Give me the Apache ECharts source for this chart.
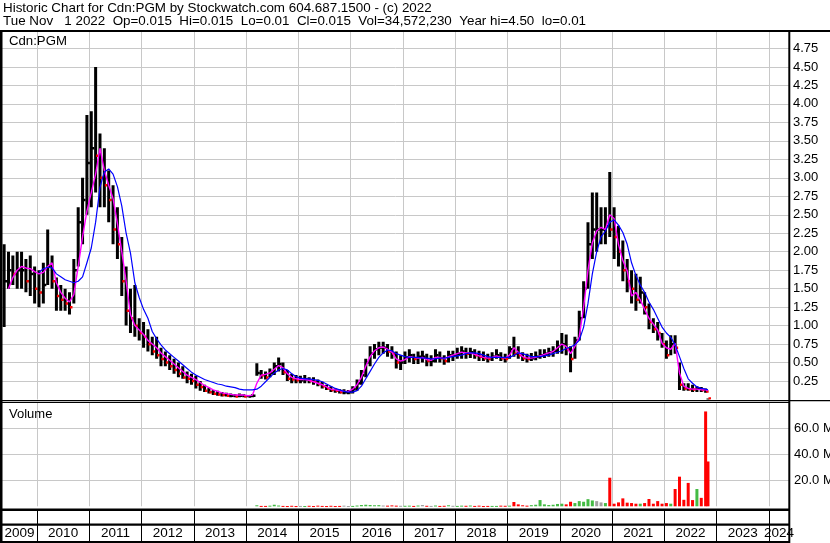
<!DOCTYPE html>
<html><head><meta charset="utf-8">
<script src="https://cdn.jsdelivr.net/npm/echarts@6/dist/echarts.min.js"></script>
<style>html,body{margin:0;padding:0;background:#fff}#c{width:830px;height:543px}</style>
</head><body><div id="c"></div><script>
// ---- data (monthly samples) ----
const firstMonth = [2009, 5];
const lastDate = '2022-11-01';
const lowP = [
 0.98,1.5,1.55,1.5,1.5,1.45,1.4,1.3,
 1.25,1.3,1.55,1.5,1.2,1.2,1.2,1.15,1.3,1.8,2.1,2.5,
 2.6,2.8,2.6,2.6,2.4,2.1,1.9,1.4,1.0,0.9,0.85,0.8,
 0.7,0.65,0.6,0.55,0.45,0.45,0.4,0.35,0.3,0.28,0.22,0.2,
 0.15,0.12,0.1,0.08,0.06,0.05,0.04,0.04,0.03,0.03,0.03,0.03,
 0.03,0.03,0.32,0.28,0.27,0.3,0.33,0.38,0.33,0.25,0.22,0.22,
 0.22,0.22,0.22,0.2,0.18,0.15,0.13,0.1,0.09,0.08,0.07,0.07,
 0.08,0.12,0.2,0.3,0.45,0.55,0.6,0.62,0.58,0.55,0.42,0.4,
 0.48,0.5,0.48,0.48,0.5,0.45,0.45,0.5,0.5,0.47,0.5,0.52,
 0.55,0.55,0.55,0.56,0.55,0.52,0.52,0.5,0.52,0.55,0.52,0.5,
 0.55,0.58,0.55,0.52,0.5,0.52,0.53,0.55,0.56,0.58,0.58,0.62,
 0.62,0.6,0.37,0.55,0.8,1.1,1.5,1.9,2.0,2.1,2.1,2.2,
 1.9,1.8,1.6,1.45,1.3,1.2,1.3,1.15,0.95,0.9,0.8,0.7,
 0.55,0.6,0.62,0.13,0.12,0.12,0.1,0.1,0.1,0.09,0.01
];
const highP = [
 2.1,2.0,1.95,2.0,2.0,1.9,1.95,1.8,
 1.75,1.85,2.3,1.95,1.65,1.55,1.5,1.45,1.9,2.6,3.0,3.85,
 3.9,4.5,3.6,3.4,3.1,2.9,2.6,2.2,1.8,1.5,1.55,1.1,
 1.05,0.95,0.85,0.85,0.7,0.65,0.6,0.55,0.5,0.45,0.38,0.35,
 0.32,0.25,0.2,0.16,0.13,0.12,0.1,0.09,0.08,0.07,0.08,0.07,
 0.06,0.07,0.49,0.4,0.38,0.42,0.5,0.57,0.5,0.4,0.35,0.33,
 0.32,0.33,0.3,0.3,0.27,0.24,0.2,0.18,0.15,0.14,0.14,0.13,
 0.18,0.27,0.4,0.55,0.72,0.75,0.78,0.78,0.75,0.72,0.65,0.6,
 0.65,0.68,0.62,0.65,0.66,0.62,0.6,0.68,0.65,0.6,0.66,0.66,
 0.7,0.72,0.7,0.7,0.68,0.66,0.65,0.62,0.64,0.68,0.64,0.62,
 0.72,0.85,0.72,0.64,0.62,0.63,0.65,0.68,0.68,0.7,0.72,0.8,
 0.9,0.88,0.72,0.85,1.2,1.6,2.4,2.8,2.8,2.6,2.6,3.08,
 2.6,2.35,2.15,1.9,1.75,1.7,1.66,1.45,1.3,1.1,1.05,0.9,
 0.8,0.87,0.87,0.5,0.22,0.22,0.2,0.18,0.17,0.15,0.015
];
const closeP = [
 1.6,1.75,1.7,1.75,1.75,1.6,1.7,1.5,
 1.45,1.55,1.8,1.6,1.4,1.35,1.3,1.25,1.75,2.4,2.7,3.2,
 3.4,3.3,3.0,2.9,2.7,2.3,2.1,1.6,1.2,1.1,1.0,0.9,
 0.85,0.75,0.65,0.6,0.55,0.5,0.45,0.4,0.35,0.3,0.28,0.25,
 0.2,0.17,0.12,0.1,0.08,0.07,0.06,0.05,0.05,0.04,0.05,0.04,
 0.04,0.05,0.36,0.33,0.3,0.36,0.45,0.48,0.37,0.28,0.27,0.26,
 0.26,0.27,0.25,0.24,0.21,0.18,0.15,0.13,0.12,0.1,0.1,0.1,
 0.14,0.22,0.33,0.5,0.62,0.68,0.7,0.7,0.65,0.62,0.5,0.5,
 0.57,0.6,0.55,0.58,0.58,0.52,0.52,0.6,0.56,0.52,0.6,0.6,
 0.62,0.65,0.62,0.64,0.6,0.58,0.56,0.55,0.58,0.6,0.56,0.55,
 0.68,0.62,0.6,0.56,0.55,0.56,0.58,0.6,0.62,0.64,0.66,0.72,
 0.75,0.68,0.55,0.8,1.1,1.5,2.1,2.3,2.3,2.3,2.35,2.3,
 2.2,2.0,1.75,1.6,1.5,1.35,1.45,1.25,1.05,0.95,0.9,0.75,
 0.6,0.75,0.7,0.2,0.15,0.14,0.135,0.145,0.13,0.11,0.015
];
const maFast = [
 null,1.5,1.65,1.75,1.8,1.78,1.77,1.73,
 1.7,1.72,1.8,1.85,1.58,1.45,1.37,1.32,1.42,1.8,2.2,2.55,
 2.8,3.05,3.4,3.1,2.9,2.72,2.38,2.0,1.6,1.15,1.0,0.94,
 0.88,0.8,0.75,0.7,0.63,0.58,0.53,0.48,0.43,0.38,0.33,0.3,
 0.27,0.23,0.19,0.16,0.13,0.11,0.09,0.08,0.07,0.06,0.06,0.06,
 0.05,0.06,0.22,0.33,0.34,0.36,0.41,0.46,0.43,0.35,0.3,0.28,
 0.27,0.27,0.26,0.24,0.22,0.2,0.17,0.14,0.13,0.12,0.11,0.11,
 0.14,0.2,0.3,0.45,0.58,0.66,0.7,0.71,0.68,0.64,0.55,0.52,
 0.54,0.58,0.57,0.56,0.57,0.54,0.53,0.57,0.57,0.55,0.58,0.6,
 0.62,0.64,0.63,0.63,0.61,0.59,0.57,0.56,0.57,0.59,0.57,0.56,
 0.6,0.7,0.64,0.58,0.56,0.56,0.57,0.59,0.61,0.63,0.65,0.7,
 0.75,0.72,0.62,0.72,0.85,1.25,1.75,2.12,2.28,2.33,2.3,2.5,
 2.45,2.1,1.88,1.74,1.4,1.45,1.35,1.22,1.1,1.02,0.94,0.76,
 0.7,0.68,0.76,0.36,0.18,0.15,0.14,0.14,0.13,0.13,0.12
];
const maSlow = [
 null,null,null,null,null,null,null,null,
 1.72,1.77,1.79,1.78,1.7,1.66,1.62,1.6,1.58,1.6,1.66,1.85,
 2.05,2.4,2.87,3.08,3.12,3.05,2.88,2.62,2.25,1.98,1.58,1.38,
 1.22,1.1,0.92,0.82,0.74,0.67,0.62,0.57,0.52,0.47,0.42,0.37,
 0.33,0.3,0.27,0.25,0.23,0.21,0.2,0.18,0.17,0.16,0.14,0.13,
 0.13,0.13,0.14,0.18,0.24,0.3,0.36,0.4,0.42,0.4,0.35,0.31,
 0.29,0.28,0.28,0.27,0.26,0.24,0.21,0.18,0.15,0.13,0.11,0.1,
 0.1,0.12,0.18,0.28,0.38,0.48,0.57,0.63,0.67,0.66,0.62,0.6,
 0.58,0.57,0.57,0.57,0.56,0.56,0.55,0.55,0.56,0.56,0.57,0.58,
 0.59,0.6,0.62,0.63,0.63,0.62,0.6,0.58,0.57,0.57,0.57,0.57,
 0.57,0.6,0.63,0.62,0.6,0.58,0.58,0.58,0.59,0.6,0.62,0.64,
 0.66,0.69,0.71,0.74,0.8,0.98,1.3,1.7,2.0,2.2,2.28,2.4,
 2.43,2.36,2.26,2.1,1.85,1.68,1.55,1.45,1.32,1.22,1.1,0.98,
 0.9,0.84,0.74,0.58,0.42,0.28,0.22,0.17,0.15,0.14,0.13
];
const volumeM = [
 0,0,0,0,0,0,0,0,
 0,0,0,0,0,0,0,0,0,0,0,0,
 0,0,0,0,0,0,0,0,0,0,0,0,
 0,0,0,0,0,0,0,0,0,0,0,0,
 0,0,0,0,0,0,0,0,0,0,0,0,
 0,0,0.8,0.3,0.3,0.5,1.2,0.6,0.3,0.2,0.4,0.2,
 0.3,0.2,0.4,0.2,0.5,0.3,0.2,0.4,0.2,0.3,0.5,0.2,
 0.3,0.6,1.0,1.2,1.0,0.8,0.9,0.6,0.5,0.7,0.5,0.4,
 0.4,0.5,0.3,0.6,1.0,0.4,0.3,0.6,0.3,0.4,0.8,0.4,
 0.3,0.5,0.4,0.6,0.3,0.5,0.2,0.3,0.3,0.3,0.5,0.4,
 0.5,3.3,1.5,0.8,0.5,0.9,1.2,4.8,1.5,1.0,1.2,1.8,
 2.0,1.5,3.5,2.5,4.0,3.5,5.5,4.5,4.0,3.0,2.5,22,
 2.0,3.0,6.1,2.8,2.5,2.0,2.0,2.5,5.6,2.0,4.0,2.0,
 2.5,2.0,13.3,22.8,5.0,18,4.8,13.3,6.5,73,34.5
];
const yearLines = [2010,2011,2012,2013,2014,2015,2016,2017,2018,2019,2020,2021,2022,2023,2024];
const yearLabels = ['2009','2010','2011','2012','2013','2014','2015','2016','2017','2018','2019','2020','2021','2022','2023','2024'];
const titleLine1 = 'Historic Chart for Cdn:PGM by Stockwatch.com 604.687.1500 - (c) 2022';
const titleLine2 = 'Tue Nov   1 2022  Op=0.015  Hi=0.015  Lo=0.01  Cl=0.015  Vol=34,572,230  Year hi=4.50  lo=0.01';

// ---- build ----
const dates = [];
{ let y = firstMonth[0], m = firstMonth[1];
  for (let i = 0; i < lowP.length - 1; i++) { dates.push(y + '-' + String(m).padStart(2,'0') + '-15'); m++; if (m > 12) { m = 1; y++; } }
  dates.push(lastDate); }
function toYear(d){ const p = d.split('-').map(Number); return p[0] + (p[1]-1)/12 + (p[2]-1)/365; }
const xs = dates.map(toYear);
const X_MIN = 2009.331, X_MAX = 2024.383;
const barData = xs.map((x,i)=>[x, lowP[i], highP[i], closeP[i], i>0?closeP[i-1]:closeP[i]]);
const volData = xs.map((x,i)=>[x, volumeM[i], closeP[i], i>0?closeP[i-1]:closeP[i]]);
const fastData = xs.map((x,i)=>[x, maFast[i]]);
const slowData = xs.map((x,i)=>[x, maSlow[i]]);
const labelPos = yearLabels.map(s=>{ const y = +s; const a = Math.max(X_MIN, y), b = Math.min(X_MAX, y+1); return (a+b)/2; });

const FONT = '"Liberation Sans", Arial, sans-serif';
const chart = echarts.init(document.getElementById('c'), null, {renderer:'canvas'});
const gridLine = {color:'#c8c8c8', width:1};
function xAx(i, extra){ return Object.assign({type:'value', gridIndex:i, min:X_MIN, max:X_MAX,
  axisLine:{show:false}, axisTick:{show:true, length:0, customValues:yearLines},
  axisLabel:{show:false}, splitLine:{show:true, lineStyle:gridLine}}, extra||{}); }

chart.setOption({
  animation:false,
  backgroundColor:'#fff',
  grid:[
    {left:2, top:32, width:787, height:367.5, outerBoundsMode:'none', containLabel:false},
    {left:2, top:403, width:787, height:103.3, outerBoundsMode:'none', containLabel:false},
    {left:2, top:510, width:787, height:31, outerBoundsMode:'none', containLabel:false}
  ],
  xAxis:[
    xAx(0), xAx(1),
    xAx(2, {splitLine:{show:true, lineStyle:{color:'#000', width:1}},
      axisLabel:{show:true, inside:true, margin:1, customValues:labelPos, color:'#000', fontSize:13.5, fontFamily:FONT,
        formatter:v=>String(Math.floor(v))}})
  ],
  yAxis:[
    {type:'value', gridIndex:0, position:'right', min:0, max:4.973, interval:0.25,
     axisLine:{show:false}, axisTick:{show:false},
     axisLabel:{color:'#000', fontSize:13, fontFamily:FONT, margin:4,
       formatter:v=>(v>0 && Math.abs(v/0.25-Math.round(v/0.25))<1e-6)?v.toFixed(2):''},
     splitLine:{show:true, lineStyle:gridLine, showMinLine:false, showMaxLine:false}},
    {type:'value', gridIndex:1, position:'right', min:0, max:79.5, interval:20,
     axisLine:{show:false}, axisTick:{show:false},
     axisLabel:{color:'#000', fontSize:13, fontFamily:FONT, margin:5,
       formatter:v=>(v>0 && v%20===0)?v.toFixed(1)+' M':''},
     splitLine:{show:true, lineStyle:gridLine, showMinLine:false, showMaxLine:false}},
    {type:'value', gridIndex:2, min:0, max:1, show:false}
  ],
  series:[
    {type:'custom', xAxisIndex:0, yAxisIndex:0, data:barData, encode:{x:0, y:[1,2]}, clip:true,
     renderItem:(p,api)=>{
       const x=api.value(0), lo=api.value(1), hi=api.value(2), cl=api.value(3), pc=api.value(4);
       const a=api.coord([x,lo]), b=api.coord([x,hi]), c=api.coord([x,cl]);
       const down = cl < pc;
       return {type:'group', children:[
         {type:'rect', shape:{x:a[0]-1.5, y:b[1], width:3, height:Math.max(1.5,a[1]-b[1])}, style:{fill:'#000'}},
         {type:'rect', shape:{x:c[0]+0.5, y:c[1]-1.2, width:2.5, height:2.5}, style:{fill:down?'#ff0000':'#000'}}
       ]};
     }},
    {type:'line', xAxisIndex:0, yAxisIndex:0, data:fastData, showSymbol:false, connectNulls:false,
     lineStyle:{color:'#ff00ff', width:1.4}, itemStyle:{color:'#ff00ff'}, z:3},
    {type:'line', xAxisIndex:0, yAxisIndex:0, data:slowData, showSymbol:false, connectNulls:false,
     lineStyle:{color:'#0000ff', width:1.2}, itemStyle:{color:'#0000ff'}, z:4},
    {type:'custom', xAxisIndex:1, yAxisIndex:1, data:volData, encode:{x:0, y:1},
     renderItem:(p,api)=>{
       const x=api.value(0), v=api.value(1), cl=api.value(2), pc=api.value(3);
       if (!(v>0)) return null;
       const a=api.coord([x,0]), b=api.coord([x,v]);
       const col = cl<pc ? '#ff0000' : (cl>pc ? '#44bb44' : '#a0a0a0');
       return {type:'rect', shape:{x:a[0]-1.5, y:b[1], width:3, height:Math.max(1,a[1]-b[1])}, style:{fill:col}};
     }}
  ],
  graphic:[
    {type:'text', z:100, style:{text:titleLine1, font:'13.4px '+FONT, fill:'#000', x:3, y:8, verticalAlign:'middle'}},
    {type:'text', z:100, style:{text:titleLine2, font:'13.4px '+FONT, fill:'#000', x:3, y:21.5, verticalAlign:'middle'}},
    {type:'text', z:100, style:{text:'Cdn:PGM', font:'13.2px '+FONT, fill:'#000', x:9, y:41.5, verticalAlign:'middle'}},
    {type:'text', z:100, style:{text:'Volume', font:'13px '+FONT, fill:'#000', x:9, y:414, verticalAlign:'middle'}},
    {type:'rect', z:100, shape:{x:0, y:30, width:830, height:2}, style:{fill:'#000'}},
    {type:'rect', z:100, shape:{x:0, y:30, width:2.5, height:513}, style:{fill:'#000'}},
    {type:'rect', z:100, shape:{x:788.3, y:30, width:2, height:513}, style:{fill:'#000'}},
    {type:'rect', z:100, shape:{x:0, y:400, width:830, height:1.3}, style:{fill:'#000'}},
    {type:'rect', z:100, shape:{x:0, y:402, width:789, height:1}, style:{fill:'#000'}},
    {type:'rect', z:100, shape:{x:0, y:508.5, width:790, height:2.4}, style:{fill:'#000'}},
    {type:'rect', z:100, shape:{x:0, y:523.5, width:790, height:2.2}, style:{fill:'#000'}},
    {type:'rect', z:100, shape:{x:0, y:541, width:790, height:2}, style:{fill:'#000'}}
  ]
});
</script></body></html>
